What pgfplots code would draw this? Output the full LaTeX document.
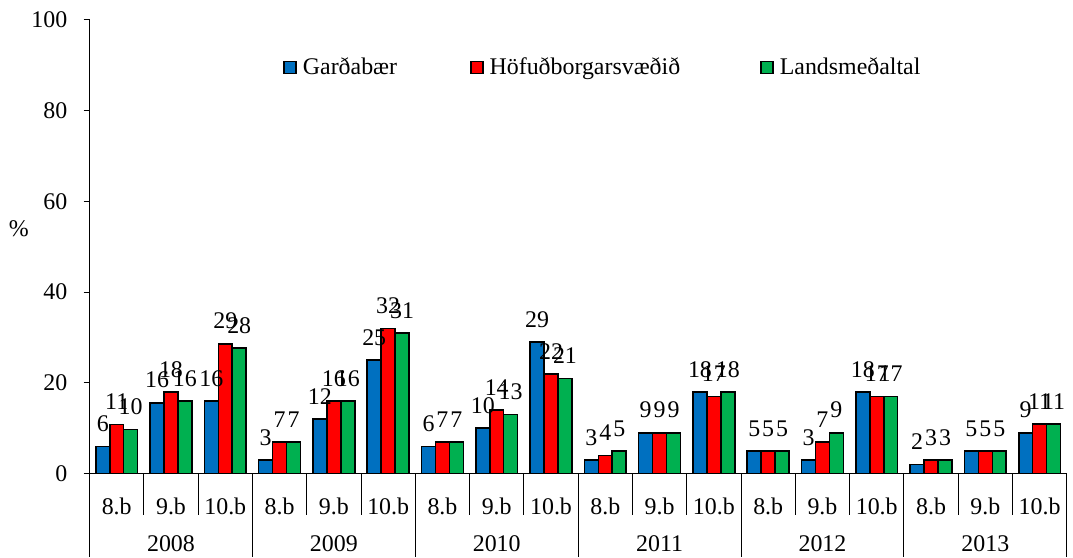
\documentclass[border=0pt]{standalone}
\usepackage{pgfplots}
\pgfplotsset{compat=1.18}
\usepackage{fontspec}
\setmainfont{Liberation Serif}
\definecolor{cblue}{RGB}{0,112,192}
\definecolor{cred}{RGB}{255,0,0}
\definecolor{cgreen}{RGB}{0,176,80}
\begin{document}
\fontsize{12}{14}\selectfont
\begin{tikzpicture}
\begin{axis}[
  width=491pt, height=228pt, scale only axis,
  xmin=-0.5, xmax=17.5, ymin=0, ymax=100,
  ybar=0pt, bar width=7pt,
  axis x line*=bottom, axis y line*=left,
  axis line style={black, line width=0.5pt},
  ytick={0,20,...,100},
  tick align=outside, major tick length=3pt,
  ytick style={black, line width=0.5pt},
  yticklabel style={xshift=-4pt},
  xtick={0,...,17},
  xticklabels={8.b,9.b,10.b,8.b,9.b,10.b,8.b,9.b,10.b,8.b,9.b,10.b,8.b,9.b,10.b,8.b,9.b,10.b},
  xtick style={draw=none},
  xticklabel style={anchor=center, yshift=-13.5pt},
  /pgf/number format/assume math mode=true,
  tick label style={font=\fontsize{12}{14}\selectfont},
  ylabel={\%},
  every axis y label/.style={at={(rel axis cs:0,0.54)}, anchor=center, xshift=-35.5pt},
  clip=false,
  nodes near coords,
  nodes near coords style={font=\fontsize{12}{14}\selectfont, yshift=3pt,
    /pgf/number format/.cd, fixed, precision=0, assume math mode=true},
  every axis plot/.append style={draw=black, line width=0.8pt},
  legend columns=3,
  legend style={at={(rel axis cs:0.198,0.895)}, anchor=west, draw=none, fill=none,
    inner sep=0pt, font=\fontsize{12}{14}\selectfont,
    nodes={inner sep=0pt, anchor=west},
    /tikz/every even column/.append style={column sep=0pt},
    /tikz/every odd column/.append style={column sep=0pt}},
  legend image code/.code={\draw[#1, line width=0.8pt] (0pt,-3pt) rectangle (6pt,3pt);},
]
\addplot[fill=cblue] coordinates {
(0,6) (1,15.6) (2,16) (3,3) (4,12) (5,25) (6,6) (7,10) (8,29) (9,3) (10,9) (11,18) (12,5) (13,3) (14,18) (15,2) (16,5) (17,9)};
\addplot[fill=cred] coordinates {
(0,10.8) (1,18) (2,28.6) (3,7) (4,16) (5,32) (6,7) (7,14) (8,22) (9,4) (10,9) (11,17) (12,5) (13,7) (14,17) (15,3) (16,5) (17,11)};
\addplot[fill=cgreen] coordinates {
(0,9.7) (1,16) (2,27.7) (3,7) (4,16) (5,31) (6,7) (7,13) (8,21) (9,5) (10,9) (11,18) (12,5) (13,9) (14,17) (15,3) (16,5) (17,11)};
\addlegendentry{\hspace{3pt}\makebox[84pt][l]{Garðabær}}
\addlegendentry{\hspace{3pt}\makebox[136pt][l]{Höfuðborgarsvæðið}}
\addlegendentry{\hspace{3pt}Landsmeðaltal}
\pgfplotsinvokeforeach{0.5,1.5,3.5,4.5,6.5,7.5,9.5,10.5,12.5,13.5,15.5,16.5}{
  \draw[black, line width=0.5pt] (axis cs:#1,0) -- ++(0pt,-21pt);
}
\pgfplotsinvokeforeach{-0.5,2.5,5.5,8.5,11.5,14.5,17.5}{
  \draw[black, line width=0.5pt] (axis cs:#1,0) -- ++(0pt,-42pt);
}
\pgfplotsinvokeforeach{2008,2009,2010,2011,2012,2013}{
  \node[anchor=center, inner sep=0pt] at (axis cs:{(#1-2008)*3+1},0) [yshift=-35pt] {#1};
}
\path (rel axis cs:0,1) ++(-45pt,10pt);
\path (rel axis cs:1,0) ++(0.5pt,-42pt);
\end{axis}
\end{tikzpicture}
\end{document}
